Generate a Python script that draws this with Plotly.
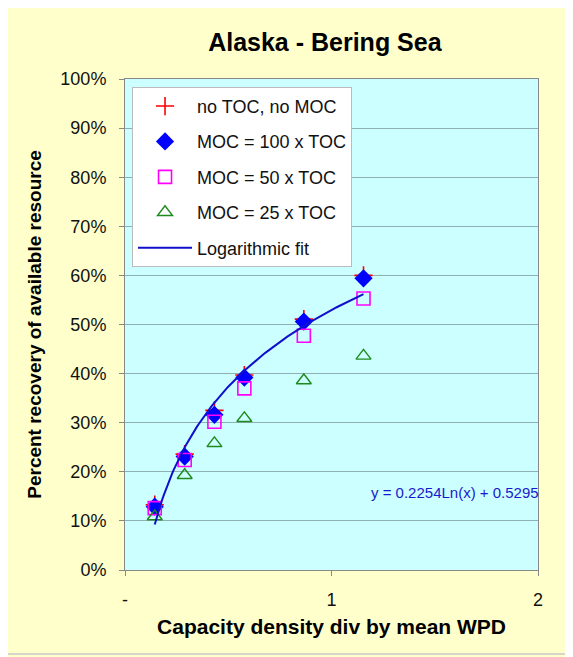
import numpy as np
import plotly.graph_objects as go

# ---- data ----
x_vals = [0.144, 0.289, 0.433, 0.578, 0.866, 1.155]
no_toc_no_moc = [0.133, 0.236, 0.325, 0.397, 0.511, 0.600]
moc_100 = [0.129, 0.231, 0.316, 0.392, 0.506, 0.594]
moc_50 = [0.126, 0.224, 0.302, 0.370, 0.477, 0.553]
moc_25 = [0.109, 0.193, 0.258, 0.309, 0.386, 0.436]

fit_a = 0.2254
fit_b = 0.5295
fit_label = "y = 0.2254Ln(x) + 0.5295"

y_ticks = [0, 0.1, 0.2, 0.3, 0.4, 0.5, 0.6, 0.7, 0.8, 0.9, 1.0]
y_ticktext = ["0%", "10%", "20%", "30%", "40%", "50%", "60%", "70%", "80%", "90%", "100%"]
x_ticks = [0, 1, 2]
x_ticktext = ["-", "1", "2"]

fit_x = np.linspace(x_vals[0], x_vals[-1], 120)
fit_y = fit_a * np.log(fit_x) + fit_b

FONT = "Arial, 'Liberation Sans', sans-serif"

fig = go.Figure()
fig.add_trace(go.Scatter(x=x_vals, y=no_toc_no_moc, mode="markers", name="no TOC, no MOC",
                         legendgroup="a",
                         marker=dict(symbol="cross-thin", size=13, line=dict(color="#FF0000", width=1.6))))
fig.add_trace(go.Scatter(x=x_vals, y=moc_100, mode="markers", name="MOC = 100 x TOC",
                         legendgroup="b",
                         marker=dict(symbol="diamond", size=14, color="#0000FF")))
fig.add_trace(go.Scatter(x=x_vals, y=moc_50, mode="markers", name="MOC = 50 x TOC",
                         legendgroup="c",
                         marker=dict(symbol="square-open", size=13, color="#FF00FF", line=dict(width=1.6))))
fig.add_trace(go.Scatter(x=x_vals, y=moc_25, mode="markers", name="MOC = 25 x TOC",
                         legendgroup="d",
                         marker=dict(symbol="triangle-up-open", size=13, color="#1E8A1E", line=dict(width=1.4))))
fig.add_trace(go.Scatter(x=fit_x, y=fit_y, mode="lines", name="Logarithmic fit",
                         legendgroup="e",
                         line=dict(color="#1010CC", width=2)))

fig.add_annotation(x=1.6, y=0.157, xref="x", yref="y", text=fit_label, showarrow=False,
                   font=dict(family=FONT, size=15, color="#1A1ACC"))

fig.update_layout(
    width=573, height=657,
    margin=dict(l=117, r=43, t=71, b=95),
    paper_bgcolor="#FFFFCC",
    plot_bgcolor="#CCFFFF",
    font=dict(family=FONT, size=18, color="#111111"),
    title=dict(text="<b>Alaska - Bering Sea</b>", x=0.553, xanchor="center", y=0.948, yanchor="middle",
               font=dict(family=FONT, size=25, color="#000000")),
    showlegend=True,
    legend=dict(x=0.017, y=0.984, xanchor="left", yanchor="top",
                bgcolor="#FFFFFF", bordercolor="#BBBBBB", borderwidth=1,
                font=dict(family=FONT, size=18), tracegroupgap=9,
                traceorder="grouped", itemwidth=54, entrywidth=225),
    xaxis=dict(range=[0, 2], tickvals=x_ticks, ticktext=x_ticktext, showgrid=False, zeroline=False,
               showline=True, linecolor="#888888", linewidth=1, mirror=True,
               ticks="outside", ticklen=5, tickcolor="#888888", ticklabelstandoff=8,
               title=dict(text="<b>Capacity density div by mean WPD</b>", font=dict(size=21, color="#000000"),
                          standoff=10),
               tickfont=dict(size=18)),
    yaxis=dict(range=[0, 1.0], tickvals=y_ticks, ticktext=y_ticktext, showgrid=True, gridcolor="#8FB0B0",
               gridwidth=1, zeroline=False,
               showline=True, linecolor="#888888", linewidth=1, mirror=True,
               ticks="outside", ticklen=5, tickcolor="#888888", ticklabelstandoff=9,
               title=dict(text="<b>Percent recovery of available resource</b>", font=dict(size=19, color="#000000"),
                          standoff=13),
               tickfont=dict(size=18)),
    shapes=[dict(type="rect", xref="paper", yref="paper",
                 x0=-0.2906, x1=1.0726, y0=-0.171, y1=1.1548,
                 line=dict(color="#C8C8C8", width=1.5), fillcolor="rgba(0,0,0,0)", layer="below")],
)

fig.write_html("out.html")
